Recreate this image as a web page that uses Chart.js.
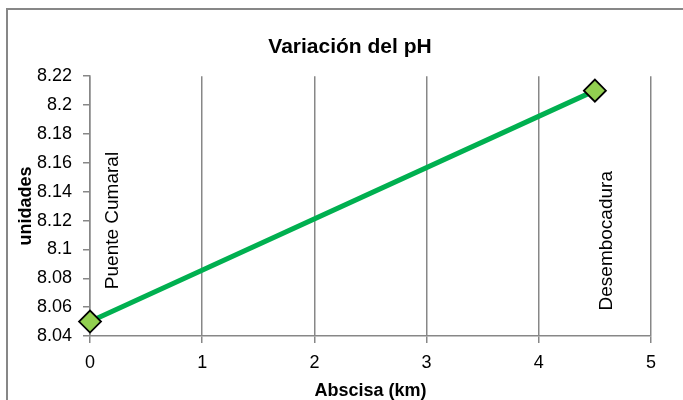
<!DOCTYPE html>
<html>
<head>
<meta charset="utf-8">
<script src="https://cdn.jsdelivr.net/npm/chart.js@4.4.1/dist/chart.umd.min.js"></script>
<style>
  html, body { margin: 0; padding: 0; background: #fff; overflow: hidden; width: 683px; height: 400px; }
  #c { display: block; }
</style>
</head>
<body>
<canvas id="c" width="683" height="400"></canvas>
<script>
// ---- data ----
const chartTitle = 'Variación del pH';
const xAxisTitle = 'Abscisa (km)';
const yAxisTitle = 'unidades';
const abscisaKm = [0, 4.5];
const phValues = [8.05, 8.21];
const siteLabels = ['Puente Cumaral', 'Desembocadura'];
const xTickValues = [0, 1, 2, 3, 4, 5];
const yTickLabels = ['8.04', '8.06', '8.08', '8.1', '8.12', '8.14', '8.16', '8.18', '8.2', '8.22'];

const FONT = "'Liberation Sans', Arial, sans-serif";
const GRAY = '#878787';

// annotation placement (data units) for rotated site labels
const labelPlacement = [
  { x: 0.25, y: 8.12 },
  { x: 4.65, y: 8.106 }
];

// outer chart frame (only left and top edges visible in the crop)
const framePlugin = {
  id: 'frame',
  beforeDraw(chart) {
    const ctx = chart.ctx;
    ctx.save();
    ctx.fillStyle = '#fff';
    ctx.fillRect(0, 0, chart.width, chart.height);
    ctx.strokeStyle = GRAY;
    ctx.lineWidth = 2;
    ctx.beginPath();
    ctx.moveTo(7, chart.height + 5);
    ctx.lineTo(7, 9);
    ctx.lineTo(chart.width + 5, 9);
    ctx.stroke();
    ctx.restore();
  },
  afterDraw(chart) {
    // keep the cropped right edge clean (no frame there)
    const ctx = chart.ctx;
    ctx.save();
    ctx.fillStyle = '#fff';
    ctx.fillRect(chart.width - 3, 11, 3, chart.height);
    ctx.restore();
  }
};

const siteLabelPlugin = {
  id: 'siteLabels',
  afterDraw(chart) {
    const { ctx, scales } = chart;
    ctx.save();
    ctx.font = '19px ' + FONT;
    ctx.fillStyle = '#000';
    ctx.textAlign = 'center';
    ctx.textBaseline = 'alphabetic';
    siteLabels.forEach((t, i) => {
      const px = scales.x.getPixelForValue(labelPlacement[i].x);
      const py = scales.y.getPixelForValue(labelPlacement[i].y);
      ctx.save();
      ctx.translate(px, py);
      ctx.rotate(-Math.PI / 2);
      ctx.fillText(t, 0, 0);
      ctx.restore();
    });
    ctx.restore();
  }
};

new Chart(document.getElementById('c'), {
  type: 'line',
  data: {
    datasets: [{
      data: abscisaKm.map((x, i) => ({ x, y: phValues[i] })),
      borderColor: '#00B050',
      borderWidth: 5,
      pointStyle: 'rectRot',
      pointRadius: 11,
      pointHoverRadius: 11,
      pointBackgroundColor: '#92D050',
      pointBorderColor: '#000',
      pointBorderWidth: 1.8,
      clip: false,
      tension: 0
    }]
  },
  options: {
    responsive: false,
    animation: false,
    events: [],
    // the original chart frame extends past the right edge of the crop
    layout: { padding: { left: 0, right: -17, top: 0, bottom: 0 } },
    plugins: {
      legend: { display: false },
      tooltip: { enabled: false },
      title: {
        display: true,
        text: chartTitle,
        color: '#000',
        font: { family: FONT, size: 21, weight: 'bold', lineHeight: 1.2 },
        padding: { top: 35, bottom: 16 }
      }
    },
    scales: {
      x: {
        type: 'linear',
        min: 0, max: 5,
        afterBuildTicks(scale) { scale.ticks = xTickValues.map(v => ({ value: v })); },
        afterFit(scale) { scale.height = 64; },
        ticks: {
          color: '#000',
          font: { family: FONT, size: 18, lineHeight: 1.2 },
          padding: 9,
          maxRotation: 0,
          callback: v => String(v)
        },
        grid: { color: GRAY, lineWidth: 1.5, tickLength: 7, drawTicks: true },
        border: { display: true, color: GRAY, width: 1.5 },
        title: {
          display: true,
          text: xAxisTitle,
          color: '#000',
          font: { family: FONT, size: 18, weight: 'bold', lineHeight: 1 },
          padding: { top: 0, bottom: 0 }
        }
      },
      y: {
        type: 'linear',
        min: 8.04, max: 8.22,
        afterBuildTicks(scale) { scale.ticks = yTickLabels.map(s => ({ value: parseFloat(s) })); },
        afterFit(scale) { scale.width = 90; },
        ticks: {
          color: '#000',
          font: { family: FONT, size: 18, lineHeight: 1.2 },
          padding: 11,
          callback: (v, i) => yTickLabels[i]
        },
        grid: { drawOnChartArea: false, color: GRAY, lineWidth: 1.5, tickLength: 7, drawTicks: true },
        border: { display: true, color: GRAY, width: 1.5 },
        title: {
          display: true,
          text: yAxisTitle,
          color: '#000',
          font: { family: FONT, size: 18, weight: 'bold', lineHeight: 1 },
          padding: { top: 17, bottom: 0 }
        }
      },
      // empty right-hand margin of the plot (nothing drawn)
      yMargin: {
        type: 'linear',
        position: 'right',
        display: true,
        afterFit(scale) { scale.width = 49; },
        ticks: { display: false },
        grid: { display: false, drawTicks: false },
        border: { display: false },
        title: { display: false }
      }
    }
  },
  plugins: [framePlugin, siteLabelPlugin]
});
</script>
</body>
</html>
